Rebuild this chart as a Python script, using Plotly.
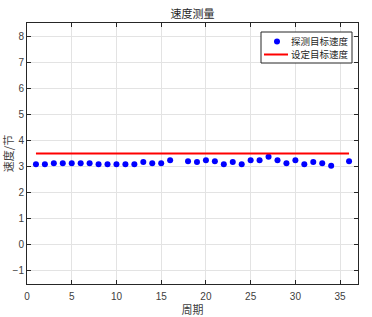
import plotly.graph_objects as go

periods = [1,2,3,4,5,6,7,8,9,10,11,12,13,14,15,16,18,19,20,21,22,23,24,25,26,27,28,29,30,31,32,33,34,36]
measured = [3.09,3.09,3.13,3.13,3.13,3.13,3.13,3.09,3.09,3.09,3.09,3.09,3.17,3.13,3.13,3.24,
            3.20,3.17,3.24,3.20,3.09,3.17,3.09,3.24,3.24,3.38,3.24,3.13,3.24,3.09,3.17,3.13,3.03,3.20]
set_x = [1, 36]
set_speed = [3.5, 3.5]
legend_names = ["探测目标速度", "设定目标速度"]

W, H = 372, 317
L, R, T, B = 27, 14, 23, 33
PW, PH = W - L - R, H - T - B


def fx(px):
    return (px - L) / PW


def fy(py):
    return (H - B - py) / PH


cjk = "Noto Sans CJK SC"
fig = go.Figure()
fig.add_trace(go.Scatter(x=periods, y=measured, mode="markers", name=legend_names[0],
                         marker=dict(color="#0000ff", size=6), showlegend=False))
fig.add_trace(go.Scatter(x=set_x, y=set_speed, mode="lines", name=legend_names[1],
                         line=dict(color="#ff0000", width=2), showlegend=False))

axis_common = dict(showline=True, linecolor="#262626", linewidth=1, mirror="ticks",
                   ticks="inside", ticklen=4, tickcolor="#262626", automargin=False,
                   showgrid=True, gridcolor="#e3e3e3", gridwidth=1, zeroline=False,
                   tickfont=dict(family="Liberation Sans", size=10, color="#404040"))
fig.update_xaxes(range=[0, 37], tickvals=[0, 5, 10, 15, 20, 25, 30, 35], ticklabelstandoff=3,
                 title=dict(text="周期", font=dict(family=cjk, size=11, color="#404040"), standoff=8),
                 **axis_common)
fig.update_yaxes(range=[-1.5, 8.5], tickvals=[-1, 0, 1, 2, 3, 4, 5, 6, 7, 8],
                 title=dict(text="速度/节", font=dict(family=cjk, size=11, color="#404040"), standoff=0),
                 **axis_common)

# manual legend (compact, MATLAB style)
fig.add_shape(type="rect", xref="paper", yref="paper", x0=fx(261), x1=fx(352), y0=fy(63), y1=fy(32),
              line=dict(color="#262626", width=1), fillcolor="white", layer="above")
fig.add_shape(type="circle", xref="paper", yref="paper", x0=fx(274), x1=fx(280), y0=fy(44.5), y1=fy(38.5),
              line=dict(color="#0000ff", width=0), fillcolor="#0000ff", layer="above")
fig.add_shape(type="line", xref="paper", yref="paper", x0=fx(264), x1=fx(288), y0=fy(54.5), y1=fy(54.5),
              line=dict(color="#ff0000", width=2), layer="above")
for i, name in enumerate(legend_names):
    fig.add_annotation(text=name, xref="paper", yref="paper", x=fx(290), y=fy(41.2 + 13.2 * i),
                       xanchor="left", yanchor="middle", showarrow=False, borderpad=0,
                       font=dict(family=cjk, size=9.5, color="#262626"))

fig.update_layout(
    width=W, height=H,
    margin=dict(l=L, r=R, t=T, b=B),
    paper_bgcolor="white", plot_bgcolor="white",
    title=dict(text="速度测量", x=0.5, xanchor="center", xref="paper", y=1 - 14 / H, yanchor="middle",
               font=dict(family=cjk, size=11, color="#262626")),
    showlegend=False,
)
fig.write_html("out.html")
